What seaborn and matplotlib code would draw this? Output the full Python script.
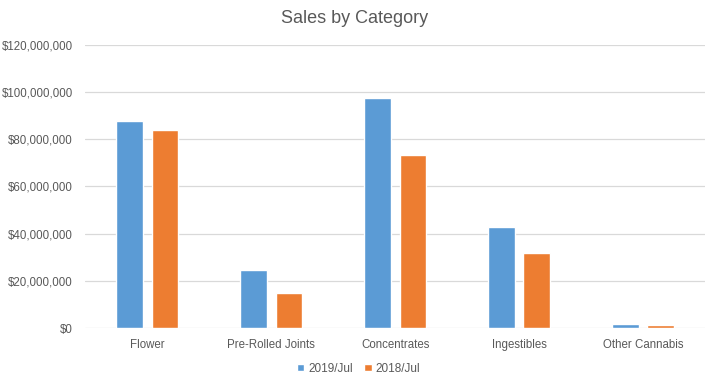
import matplotlib
matplotlib.use("Agg")
import matplotlib.pyplot as plt
import matplotlib.ticker as mticker
import seaborn as sns
import pandas as pd

categories = ["Flower", "Pre-Rolled Joints", "Concentrates", "Ingestibles", "Other Cannabis"]
sales_2019 = [87.8e6, 24.8e6, 97.5e6, 43.0e6, 2.0e6]
sales_2018 = [84.0e6, 15.1e6, 73.2e6, 32.0e6, 1.6e6]
series = ["2019/Jul", "2018/Jul"]
colors = ["#5B9BD5", "#ED7D31"]

df = pd.DataFrame({
    "Category": categories * 2,
    "Sales": sales_2019 + sales_2018,
    "Period": [series[0]] * len(categories) + [series[1]] * len(categories),
})

sns.set_theme(style="white")
plt.rcParams["font.family"] = ["Liberation Sans", "DejaVu Sans"]
text_color = "#595959"

fig = plt.figure(figsize=(7.1, 3.84), dpi=100)
ax = fig.add_axes([0.12, 0.145, 0.873, 0.739])

sns.barplot(data=df, x="Category", y="Sales", hue="Period", palette=colors,
            width=0.57, gap=0.25, ax=ax, errorbar=None, saturation=1)

ax.set_ylim(0, 120e6)
ax.set_xlim(-0.5, len(categories) - 0.5)
ax.yaxis.set_major_locator(mticker.MultipleLocator(20e6))
ax.yaxis.set_major_formatter(mticker.FuncFormatter(lambda v, p: f"${v:,.0f}"))
ax.grid(axis="y", color="#D9D9D9", linewidth=0.9)
ax.set_axisbelow(True)
for s in ax.spines.values():
    s.set_visible(False)
ax.set_xlabel("")
ax.set_ylabel("")
ax.tick_params(axis="both", length=0, colors=text_color, labelsize=8.3)
ax.tick_params(axis="y", pad=9)
ax.tick_params(axis="x", pad=8)

fig.text(0.5, 0.953, "Sales by Category", ha="center", va="center",
         fontsize=13, color=text_color)

handles, labels = ax.get_legend_handles_labels()
ax.legend_.remove()
leg = fig.legend(handles, labels, loc="center", bbox_to_anchor=(0.505, 0.04), ncol=2,
                 frameon=False, fontsize=8.5, handlelength=0.6, handleheight=0.6,
                 handletextpad=0.3, columnspacing=1.0)
for t in leg.get_texts():
    t.set_color(text_color)

fig.savefig("out.png", dpi=100)
